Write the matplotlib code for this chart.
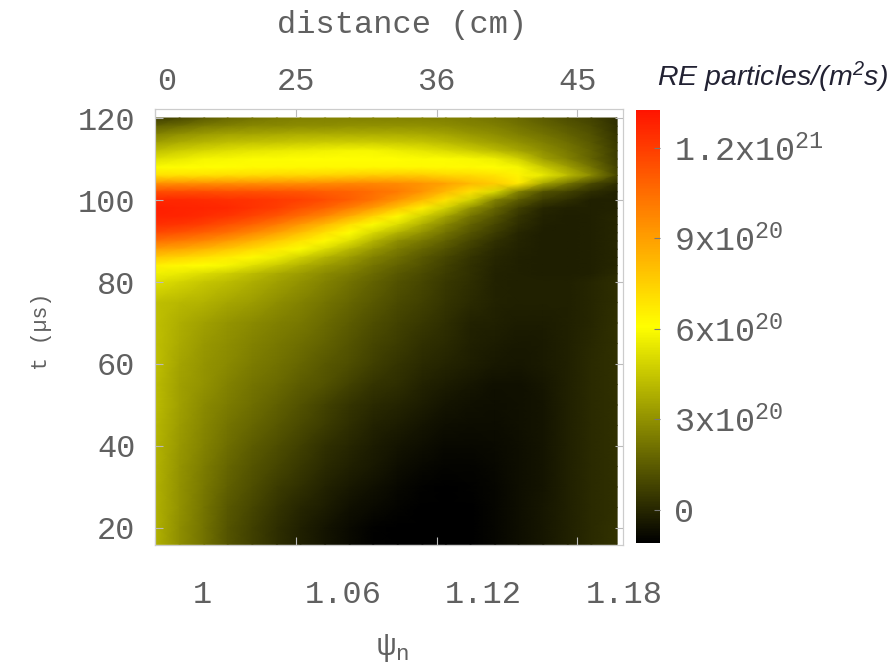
import matplotlib
matplotlib.use('Agg')
import matplotlib.pyplot as plt
from matplotlib.colors import LinearSegmentedColormap
from matplotlib.transforms import ScaledTranslation
import numpy as np

# psi_n at the grid columns, t in microseconds at the grid rows
psi = [1.000, 1.0105, 1.021, 1.031, 1.0415, 1.052, 1.062, 1.0725, 1.083, 1.093,
       1.1035, 1.114, 1.124, 1.1345, 1.145, 1.155, 1.1655, 1.176, 1.186, 1.197]
t = [120, 118, 116, 114, 112, 110, 108, 106, 104, 102, 100, 98, 96, 94, 92, 90,
     88, 86, 84, 82, 80, 75, 70, 65, 60, 55, 50, 45, 40, 35, 30, 25, 20, 16]

# RE particles/(m^2 s) in units of 1e20, one row per t
flux = [
  [.6, 1.0, 1.5, 1.9, 2.2, 2.4, 2.5, 2.6, 2.6, 2.6, 2.6, 2.6, 2.5, 2.4, 2.2, 1.9, 1.5, 1.1, .8, .2],
  [1.7, 2.0, 2.4, 2.6, 2.8, 2.8, 2.9, 2.9, 3.0, 3.0, 3.0, 3.0, 2.9, 2.7, 2.5, 2.2, 1.8, 1.4, 1.0, .3],
  [2.6, 3.0, 3.3, 3.5, 3.6, 3.7, 3.8, 3.8, 3.8, 3.8, 3.8, 3.7, 3.5, 3.2, 2.9, 2.5, 2.1, 1.7, 1.2, .4],
  [3.4, 3.8, 4.1, 4.3, 4.4, 4.5, 4.6, 4.7, 4.7, 4.7, 4.6, 4.5, 4.2, 3.8, 3.4, 3.0, 2.5, 2.0, 1.4, .5],
  [4.3, 4.7, 5.0, 5.2, 5.4, 5.5, 5.6, 5.7, 5.8, 5.8, 5.6, 5.4, 5.1, 4.7, 4.2, 3.6, 2.9, 2.3, 1.6, .6],
  [5.2, 5.5, 5.8, 5.9, 6.0, 6.0, 6.1, 6.1, 6.1, 6.1, 6.1, 6.0, 6.0, 5.9, 5.6, 4.8, 3.4, 2.6, 1.7, .6],
  [6.0, 6.1, 6.1, 6.1, 6.2, 6.2, 6.3, 6.3, 6.3, 6.3, 6.3, 6.3, 6.2, 6.2, 6.1, 5.8, 4.6, 3.4, 2.2, .7],
  [7.0, 7.0, 7.0, 7.1, 7.2, 7.3, 7.3, 7.4, 7.5, 7.6, 7.7, 7.6, 7.3, 7.2, 6.9, 6.4, 5.5, 4.2, 2.8, .9],
  [9.5, 9.5, 9.5, 9.5, 9.5, 9.5, 9.5, 9.6, 9.7, 9.7, 9.6, 9.3, 8.9, 8.2, 7.6, 6.8, 3.6, 2.2, 1.0, .2],
  [11.5, 11.5, 11.5, 11.4, 11.4, 11.3, 11.2, 11.0, 10.8, 10.5, 10.1, 9.3, 8.2, 7.0, 5.0, 2.6, 1.2, .8, .2, -.1],
  [12.6, 12.6, 12.5, 12.4, 12.3, 12.1, 11.9, 11.5, 11.0, 10.3, 9.3, 8.2, 6.9, 4.8, 2.6, 1.5, .6, .2, -.2, -.2],
  [12.9, 12.8, 12.7, 12.6, 12.3, 12.0, 11.4, 10.8, 10.0, 9.0, 7.8, 6.5, 4.8, 3.0, 1.8, .7, 0, -.2, -.2, -.1],
  [12.8, 12.7, 12.5, 12.2, 11.8, 11.2, 10.5, 9.7, 8.6, 7.4, 6.2, 4.8, 3.5, 2.2, 1.3, .4, -.1, -.25, -.2, 0],
  [12.4, 12.2, 11.9, 11.4, 10.8, 10.1, 9.2, 8.2, 7.0, 6.0, 5.1, 3.8, 2.7, 1.7, .9, .2, -.2, -.25, -.2, 0],
  [11.6, 11.3, 10.9, 10.4, 9.7, 8.9, 8.0, 7.0, 6.1, 5.0, 3.9, 3.0, 2.1, 1.3, .6, 0, -.25, -.25, -.2, 0],
  [10.4, 10.1, 9.7, 9.1, 8.4, 7.6, 6.9, 6.2, 5.2, 4.0, 2.9, 2.3, 1.6, .9, .3, -.05, -.25, -.25, -.2, 0],
  [9.0, 8.8, 8.3, 7.8, 7.2, 6.6, 6.0, 5.1, 4.1, 3.2, 2.4, 1.8, 1.2, .6, .1, -.1, -.25, -.25, -.2, 0],
  [7.7, 7.4, 7.0, 6.6, 6.2, 5.6, 4.8, 4.0, 3.3, 2.6, 2.0, 1.4, .9, .4, 0, -.2, -.25, -.25, -.2, 0],
  [6.5, 6.3, 6.1, 5.8, 5.2, 4.6, 3.9, 3.3, 2.8, 2.2, 1.7, 1.2, .7, .3, -.05, -.2, -.25, -.25, -.2, 0],
  [5.7, 5.5, 5.1, 4.7, 4.2, 3.7, 3.3, 2.8, 2.4, 1.9, 1.4, 1.0, .6, .25, -.1, -.2, -.25, -.25, -.2, .1],
  [5.2, 4.9, 4.5, 4.2, 3.8, 3.4, 3.0, 2.6, 2.1, 1.7, 1.2, .9, .5, .2, -.1, -.2, -.2, -.2, 0, .2],
  [4.3, 4.1, 3.9, 3.6, 3.3, 2.9, 2.6, 2.2, 1.8, 1.4, 1.0, .7, .4, .1, -.1, -.2, -.2, -.2, 0, .2],
  [4.3, 3.8, 3.4, 3.1, 2.8, 2.5, 2.3, 1.9, 1.5, 1.1, .8, .5, .2, -.1, -.2, -.3, -.3, -.2, 0, .3],
  [4.3, 3.7, 3.2, 2.9, 2.6, 2.3, 2.0, 1.7, 1.3, .9, .6, .3, .1, -.2, -.3, -.4, -.35, -.2, .05, .3],
  [4.3, 3.5, 3.1, 2.8, 2.4, 2.1, 1.8, 1.4, 1.1, .7, .4, .1, -.05, -.25, -.4, -.45, -.35, -.2, .1, .3],
  [4.2, 3.4, 3.0, 2.6, 2.2, 1.9, 1.5, 1.2, .8, .4, .2, -.1, -.3, -.45, -.6, -.6, -.45, -.2, .1, .3],
  [4.2, 3.4, 2.8, 2.4, 2.0, 1.6, 1.2, .8, .4, .1, -.05, -.3, -.5, -.6, -.7, -.6, -.5, -.2, .1, .3],
  [4.1, 3.3, 2.7, 2.2, 1.8, 1.4, 1.0, .6, .2, -.1, -.3, -.5, -.7, -.75, -.75, -.65, -.5, -.2, .1, .3],
  [4.0, 3.2, 2.6, 2.0, 1.5, 1.1, .7, .3, 0, -.3, -.5, -.7, -.85, -.85, -.8, -.7, -.5, -.2, .1, .3],
  [4.0, 3.1, 2.4, 1.8, 1.3, .9, .5, .1, -.2, -.4, -.7, -.85, -.95, -.95, -.85, -.7, -.5, -.2, .1, .3],
  [3.9, 3.0, 2.3, 1.6, 1.1, .6, .3, -.1, -.4, -.6, -.85, -1.0, -1.05, -1.0, -.9, -.7, -.5, -.2, .1, .3],
  [3.9, 3.0, 2.2, 1.4, .9, .4, 0, -.3, -.6, -.8, -.95, -1.05, -1.1, -1.05, -.9, -.7, -.45, -.2, .1, .3],
  [3.9, 2.9, 2.1, 1.3, .7, .2, -.2, -.5, -.8, -1.0, -1.05, -1.1, -1.1, -1.05, -.9, -.7, -.45, -.2, .1, .35],
  [3.9, 2.9, 2.1, 1.3, .7, .2, -.2, -.5, -.8, -1.0, -1.05, -1.1, -1.1, -1.05, -.9, -.7, -.45, -.2, .1, .35],
]

t_ticks = [20, 40, 60, 80, 100, 120]
psi_ticks = [1, 1.06, 1.12, 1.18]
psi_labels = ['1', '1.06', '1.12', '1.18']
dist_labels = ['0', '25', '36', '45']
cbar_ticks = [0, 3, 6, 9, 12]
cbar_labels = ['0', '3x10$^{20}$', '6x10$^{20}$', '9x10$^{20}$', '1.2x10$^{21}$']

TEXT = '#606060'
plt.rcParams['font.family'] = ['Liberation Mono', 'DejaVu Sans']
plt.rcParams['mathtext.default'] = 'regular'

W, H = 888, 663
def box(x0, y0, x1, y1):
  # pixel box, y measured from the top of the image
  return [x0 / W, 1 - y1 / H, (x1 - x0) / W, (y1 - y0) / H]

cmap = LinearSegmentedColormap.from_list('re', [(0, '#000000'), (.5, '#ffff00'), (1, '#ff1400')])

fig = plt.figure(figsize=(W / 100, H / 100), dpi=100)
ax = fig.add_axes(box(155, 109, 623, 545))
mesh = ax.pcolormesh(psi, t, np.array(flux), cmap=cmap, vmin=-1.1, vmax=13.26, shading='gouraud')
ax.set_xlim(1.0004, 1.1995)
ax.set_ylim(15.85, 122.2)

ax.set_yticks(t_ticks)
ax.set_xticks(psi_ticks, psi_labels)
ax.tick_params(axis='x', direction='in', length=6, color='#bbbbbb', labelsize=23, labelcolor=TEXT, pad=25)
ax.tick_params(axis='y', direction='in', length=6, color='#bbbbbb', labelsize=23, labelcolor=TEXT, pad=14, right=True)
# the bottom labels sit to the right of their ticks in the original
for lab in ax.get_xticklabels():
  lab.set_transform(lab.get_transform() + ScaledTranslation(.47, 0, fig.dpi_scale_trans))

top = ax.twiny()
top.set_xlim(ax.get_xlim())
top.set_xticks(psi_ticks, dist_labels)
top.tick_params(axis='x', direction='in', length=6, color='#bbbbbb', labelsize=23, labelcolor=TEXT, pad=9)
first = top.get_xticklabels()[0]
first.set_transform(first.get_transform() + ScaledTranslation(.12, 0, fig.dpi_scale_trans))

for a in (ax, top):
  for s in a.spines.values():
    s.set_color('#cccccc')

ax.set_ylabel('t (µs)', fontsize=15.5, color=TEXT)
ax.yaxis.set_label_coords(-0.22, .49)
fig.text(393 / W, 1 - 648 / H, 'ψ$_n$', fontsize=23, color=TEXT, ha='center', va='center')
fig.text(402 / W, 1 - 25 / H, 'distance (cm)', fontsize=23, color=TEXT, ha='center', va='center')
fig.text(888 / W, 1 - 77 / H, 'RE particles/(m$^{2}$s)', fontsize=20.5, style='italic', color='#222233',
         family='Liberation Sans', ha='right', va='center')

cax = fig.add_axes(box(636, 110, 660, 543))
cbar = fig.colorbar(mesh, cax=cax, ticks=cbar_ticks)
cbar.ax.set_yticklabels(cbar_labels)
cbar.outline.set_visible(False)
cax.tick_params(direction='in', length=4, color='#777777', labelsize=24, labelcolor=TEXT, pad=10)

plt.savefig('out.png', dpi=100)
